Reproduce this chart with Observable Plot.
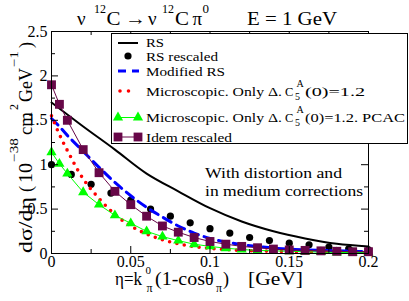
<!DOCTYPE html>
<html><head><meta charset="utf-8">
<script src="https://cdn.jsdelivr.net/npm/d3@7"></script>
<script src="https://cdn.jsdelivr.net/npm/@observablehq/plot@0.6"></script>
<style>body{margin:0;background:#fff}</style>
</head><body><div id="chart"></div>
<script>
// ---- data ----
const etaRS = [0, 0.02, 0.04, 0.06, 0.08, 0.10, 0.12, 0.14, 0.16, 0.18, 0.20];
const sigmaRS = [1.70, 1.43, 1.17, 0.90, 0.70, 0.51, 0.36, 0.25, 0.17, 0.11, 0.08];

const etaRSrescaled = [0, 0.0125, 0.025, 0.0375, 0.05, 0.0625, 0.075, 0.0875, 0.1, 0.1125, 0.125, 0.1375, 0.15, 0.1625, 0.175, 0.1875, 0.2];
const sigmaRSrescaled = [1.00, 0.89, 0.78, 0.68, 0.60, 0.50, 0.42, 0.345, 0.28, 0.23, 0.18, 0.146, 0.116, 0.098, 0.071, 0.053, 0.04];

const etaGrid = [0, 0.005, 0.01, 0.02, 0.03, 0.04, 0.05, 0.06, 0.07, 0.08, 0.09, 0.10, 0.11, 0.12, 0.13, 0.14, 0.15, 0.16, 0.17, 0.18, 0.19, 0.20];
const sigmaModRS = [1.52, 1.43, 1.33, 1.15, 0.97, 0.80, 0.65, 0.52, 0.41, 0.31, 0.23, 0.17, 0.13, 0.10, 0.08, 0.06, 0.05, 0.04, 0.035, 0.03, 0.025, 0.02];
const sigmaMicro = [1.55, 1.34, 1.16, 0.84, 0.62, 0.44, 0.31, 0.22, 0.155, 0.11, 0.077, 0.058, 0.045, 0.035, 0.03, 0.025, 0.02, 0.018, 0.015, 0.013, 0.011, 0.01];
const sigmaPCAC = [1.14, 1.01, 0.90, 0.69, 0.55, 0.43, 0.34, 0.25, 0.19, 0.145, 0.105, 0.08, 0.06, 0.045, 0.035, 0.03, 0.025, 0.02, 0.015, 0.012, 0.01, 0.01];
const sigmaIdem = [1.90, 1.68, 1.50, 1.17, 0.91, 0.70, 0.55, 0.42, 0.31, 0.24, 0.18, 0.135, 0.105, 0.08, 0.065, 0.05, 0.04, 0.035, 0.03, 0.025, 0.02, 0.02];

const xTickLabels = [0, 0.05, 0.1, 0.15, 0.2];
const xMinorTicks = [0.025, 0.075, 0.125, 0.175];
const yTickLabels = [0, 0.5, 1, 1.5, 2, 2.5];
const yMinorTicks = [0.25, 0.75, 1.25, 1.75, 2.25];

const legendLabels = ["RS", "RS rescaled", "Modified RS", "Microscopic. Only Δ.", "Microscopic. Only Δ.", "Idem rescaled"];

// ---- layout ----
const W = 409, H = 301, mL = 51, mR = 41, mT = 31, mB = 48;
const fw = W - mL - mR, fh = H - mT - mB;
const font = "Liberation Serif, Times New Roman, DejaVu Serif, serif";
const purple = "#670748", green = "#00ff00";

const rows = (xs, ys) => xs.map((x, i) => ({x, y: ys[i]}));

const svg = Plot.plot({
  width: W, height: H,
  marginLeft: mL, marginRight: mR, marginTop: mT, marginBottom: mB,
  x: {domain: [0, 0.2]},
  y: {domain: [0, 2.5]},
  style: {fontFamily: font, fontSize: "16px", background: "white", color: "black"},
  marks: [
    Plot.line(rows(etaRS, sigmaRS), {x: "x", y: "y", stroke: "black", strokeWidth: 2, curve: "catmull-rom"}),
    Plot.dot(rows(etaRSrescaled, sigmaRSrescaled), {x: "x", y: "y", r: 3.6, fill: "black"}),
    Plot.line(rows(etaGrid, sigmaModRS), {x: "x", y: "y", stroke: "#0000ff", strokeWidth: 3, strokeDasharray: "9,6", curve: "catmull-rom"}),
    Plot.line(rows(etaGrid, sigmaMicro), {x: "x", y: "y", stroke: "#ff0000", strokeWidth: 3.6, strokeDasharray: "0,7.5", strokeLinecap: "round", curve: "catmull-rom"}),
    Plot.line(rows(etaGrid, sigmaPCAC), {x: "x", y: "y", stroke: green, strokeWidth: 1}),
    Plot.dot(rows(etaGrid, sigmaPCAC), {x: "x", y: "y", symbol: "triangle", r: 3.8, fill: green}),
    Plot.line(rows(etaGrid, sigmaIdem), {x: "x", y: "y", stroke: purple, strokeWidth: 1}),
    Plot.dot(rows(etaGrid, sigmaIdem), {x: "x", y: "y", symbol: "square", r: 5, fill: purple}),
    Plot.frame({stroke: "black", strokeWidth: 1}),
    // inward ticks on all four sides
    Plot.tickX(xTickLabels, {x: d => d, insetTop: fh - 7, stroke: "black"}),
    Plot.tickX(xTickLabels, {x: d => d, insetBottom: fh - 7, stroke: "black"}),
    Plot.tickX(xMinorTicks, {x: d => d, insetTop: fh - 4, stroke: "black"}),
    Plot.tickX(xMinorTicks, {x: d => d, insetBottom: fh - 4, stroke: "black"}),
    Plot.tickY(yTickLabels, {y: d => d, insetRight: fw - 7, stroke: "black"}),
    Plot.tickY(yTickLabels, {y: d => d, insetLeft: fw - 7, stroke: "black"}),
    Plot.tickY(yMinorTicks, {y: d => d, insetRight: fw - 4, stroke: "black"}),
    Plot.tickY(yMinorTicks, {y: d => d, insetLeft: fw - 4, stroke: "black"}),
    Plot.axisX({ticks: xTickLabels, tickFormat: d => String(d), tickSize: 0, tickPadding: 2, label: null, fontSize: 16}),
    Plot.axisY({ticks: yTickLabels, tickFormat: d => String(d), tickSize: 0, tickPadding: 4, label: null, fontSize: 16})
  ]
});
document.getElementById("chart").appendChild(svg);

// ---- text helpers: each piece placed where the reference shows it ----
const s = d3.select(svg);
function piece(parent, x, y, size, txt, len) {
  const t = parent.append("text").attr("x", x).attr("y", y)
    .attr("text-anchor", "start").attr("font-family", font)
    .attr("font-size", size).attr("fill", "black").style("white-space", "pre").text(txt);
  if (len) t.attr("textLength", len).attr("lengthAdjust", "spacingAndGlyphs");
  return t;
}

// title
piece(s, 77, 25, 19, "ν");
piece(s, 94, 13, 13, "12", 12);
piece(s, 106.5, 25, 19, "C", 14);
piece(s, 125, 25, 19, "→", 21);
piece(s, 148, 25, 19, "ν");
piece(s, 162, 13, 13, "12", 12);
piece(s, 175, 25, 19, "C", 14);
piece(s, 192.5, 25, 19, "π");
piece(s, 202.5, 13, 13, "0");
piece(s, 247, 25, 19, "E = 1 GeV", 90);

// x label
piece(s, 115, 285, 18, "η=k", 27);
piece(s, 145.5, 274, 11, "0");
piece(s, 146.5, 292, 12, "π");
piece(s, 155, 285, 18, "(1-cos", 50);
piece(s, 205, 285, 18, "θ");
piece(s, 216, 292, 12, "π");
piece(s, 223, 285, 18, ")");
piece(s, 248, 285, 18, "[GeV]", 55);

// y label (rotated, pieces along the axis)
const yl = s.append("g").attr("transform", "translate(32,253) rotate(-90)");
piece(yl, 0, 0, 18, "dσ/dη", 56);
piece(yl, 61, 0, 18, "(");
piece(yl, 70, 0, 18, "10", 20);
piece(yl, 91, -14, 12, "−38", 24);
piece(yl, 118, 0, 18, "cm", 23);
piece(yl, 143, -14, 12, "2");
piece(yl, 151, 0, 18, "GeV", 34);
piece(yl, 186, -14, 12, "−1", 16);
piece(yl, 205, 0, 18, ")");

// annotation
piece(s, 205, 178, 15.5, "With distortion and", 137);
piece(s, 205, 196, 15.5, "in medium corrections", 158);

// ---- legend ----
const lg = s.append("g");
lg.append("rect").attr("x", 111.5).attr("y", 33.5).attr("width", 296).attr("height", 110)
  .attr("fill", "white").attr("stroke", "black").attr("stroke-width", 1);
const lx1 = 118, lx2 = 138, tx = 146, fsL = 12.5;
// RS
lg.append("line").attr("x1", lx1).attr("x2", lx2).attr("y1", 43).attr("y2", 43).attr("stroke", "black").attr("stroke-width", 2);
piece(lg, tx, 47, fsL, legendLabels[0], 18);
// RS rescaled
lg.append("circle").attr("cx", 128).attr("cy", 56).attr("r", 3.6).attr("fill", "black");
piece(lg, tx, 61, fsL, legendLabels[1], 72);
// Modified RS
lg.append("line").attr("x1", lx1).attr("x2", lx2 + 1).attr("y1", 71).attr("y2", 71).attr("stroke", "#0000ff").attr("stroke-width", 3).attr("stroke-dasharray", "8,6");
piece(lg, tx, 75.5, fsL, legendLabels[2], 79);
// Microscopic
lg.append("line").attr("x1", 120).attr("x2", 137).attr("y1", 91).attr("y2", 91).attr("stroke", "#ff0000").attr("stroke-width", 3.6).attr("stroke-linecap", "round").attr("stroke-dasharray", "0,8.5");
piece(lg, tx, 95.5, fsL, legendLabels[3], 136);
piece(lg, 285, 95.5, fsL, "C");
piece(lg, 295, 100, 10, "5");
piece(lg, 296.5, 87, 10, "A");
piece(lg, 305, 95.5, fsL, "(0)=1.2", 60);
// PCAC
lg.append("line").attr("x1", lx1).attr("x2", lx2).attr("y1", 117.5).attr("y2", 117.5).attr("stroke", green).attr("stroke-width", 1);
for (const cx of [lx1, lx2]) lg.append("path").attr("d", d3.symbol(d3.symbolTriangle, Math.PI * 3.8 * 3.8)()).attr("transform", `translate(${cx},117.5)`).attr("fill", green);
piece(lg, tx, 121.5, fsL, legendLabels[4], 136);
piece(lg, 285, 121.5, fsL, "C");
piece(lg, 295, 126, 10, "5");
piece(lg, 296.5, 113, 10, "A");
piece(lg, 305, 121.5, fsL, "(0)=1.2. PCAC", 100);
// Idem rescaled
lg.append("line").attr("x1", lx1).attr("x2", lx2).attr("y1", 137).attr("y2", 137).attr("stroke", purple).attr("stroke-width", 1);
for (const cx of [lx1, lx2]) lg.append("rect").attr("x", cx - 4.4).attr("y", 137 - 4.4).attr("width", 8.8).attr("height", 8.8).attr("fill", purple);
piece(lg, tx, 141.5, fsL, legendLabels[5], 86);
</script>
</body></html>
